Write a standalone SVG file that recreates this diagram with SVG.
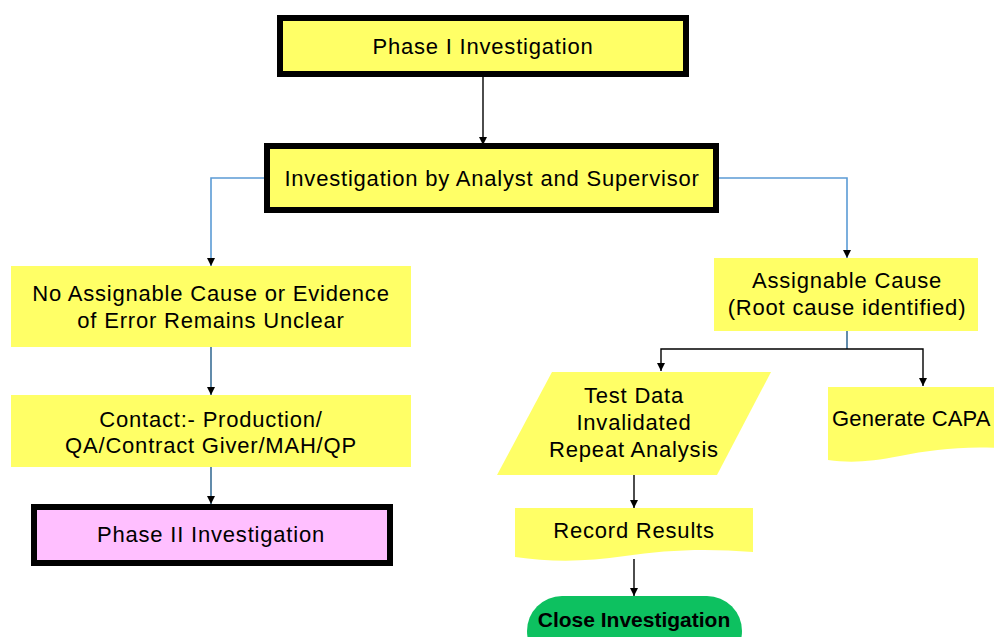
<svg xmlns="http://www.w3.org/2000/svg" width="994" height="637" viewBox="0 0 994 637">
<style>
text{font-family:"Liberation Sans",Arial,sans-serif;font-size:22px;letter-spacing:0.8px;fill:#000;text-anchor:middle}
.y{fill:#FFFF66}
.b{stroke:#000;stroke-width:6}
.k{fill:none;stroke:#000;stroke-width:1.4}
.bl{fill:none;stroke:#5B9BD5;stroke-width:1.6}
.db{fill:none;stroke:#3a6f96;stroke-width:1.6}
</style>
<defs>
<marker id="ah" viewBox="0 0 10 10" refX="10" refY="5" markerWidth="8" markerHeight="8" markerUnits="userSpaceOnUse" orient="auto">
<path d="M0,0 L10,5 L0,10 Z" fill="#000"/>
</marker>
</defs>
<rect width="994" height="637" fill="#fff"/>
<g id="connectors">
<path class="k" d="M483,77 V145" marker-end="url(#ah)"/>
<path class="bl" d="M264,178 H211 V266" marker-end="url(#ah)"/>
<path class="bl" d="M719,178 H847 V258" marker-end="url(#ah)"/>
<path class="db" d="M211,347 V395" marker-end="url(#ah)"/>
<path class="db" d="M211,467 V504" marker-end="url(#ah)"/>
<path class="db" d="M847,331 V349"/>
<path class="k" d="M847,349 H661 V371" marker-end="url(#ah)"/>
<path class="k" d="M847,349 H923 V386" marker-end="url(#ah)"/>
<path class="k" d="M634,475 V508" marker-end="url(#ah)"/>
<path class="k" d="M634,559 V596" marker-end="url(#ah)"/>
</g>
<g id="phase1">
<rect class="y b" x="280" y="18" width="406" height="56"/>
<text x="483" y="54">Phase I Investigation</text>
</g>
<g id="investigation">
<rect class="y b" x="267" y="146" width="449" height="64"/>
<text x="492" y="186">Investigation by Analyst and Supervisor</text>
</g>
<g id="no-assignable">
<rect class="y" x="11" y="266" width="400" height="81"/>
<text x="211" y="301">No Assignable Cause or Evidence</text>
<text x="211" y="328">of Error Remains Unclear</text>
</g>
<g id="contact">
<rect class="y" x="11" y="395" width="400" height="72"/>
<text x="211" y="427">Contact:- Production/</text>
<text x="211" y="453">QA/Contract Giver/MAH/QP</text>
</g>
<g id="phase2">
<rect fill="#FFBFFF" class="b" x="34" y="507" width="356" height="56"/>
<text x="211" y="542">Phase II Investigation</text>
</g>
<g id="assignable">
<rect class="y" x="714" y="258" width="264" height="73"/>
<text x="847" y="288">Assignable Cause</text>
<text x="847" y="315">(Root cause identified)</text>
</g>
<g id="test-data">
<polygon class="y" points="552,372 771,372 717,475 497,475"/>
<text x="634" y="403">Test Data</text>
<text x="634" y="430">Invalidated</text>
<text x="634" y="457">Repeat Analysis</text>
</g>
<g id="generate-capa">
<path class="y" d="M828,387 H1000 V448 C960,446 930,450 900,456 C870,462 850,463 828,460 Z"/>
<text x="832" y="426" style="text-anchor:start;letter-spacing:0.2px">Generate CAPA</text>
</g>
<g id="record-results">
<path class="y" d="M515,508 H753 V552 C705,548 665,550 625,556 C585,562 550,562 515,557 Z"/>
<text x="634" y="538">Record Results</text>
</g>
<g id="close">
<rect fill="#0DC160" x="527" y="596" width="215" height="70" rx="35" ry="35"/>
<text x="634" y="627" style="font-weight:bold;font-size:21px;letter-spacing:0">Close Investigation</text>
</g>
</svg>
